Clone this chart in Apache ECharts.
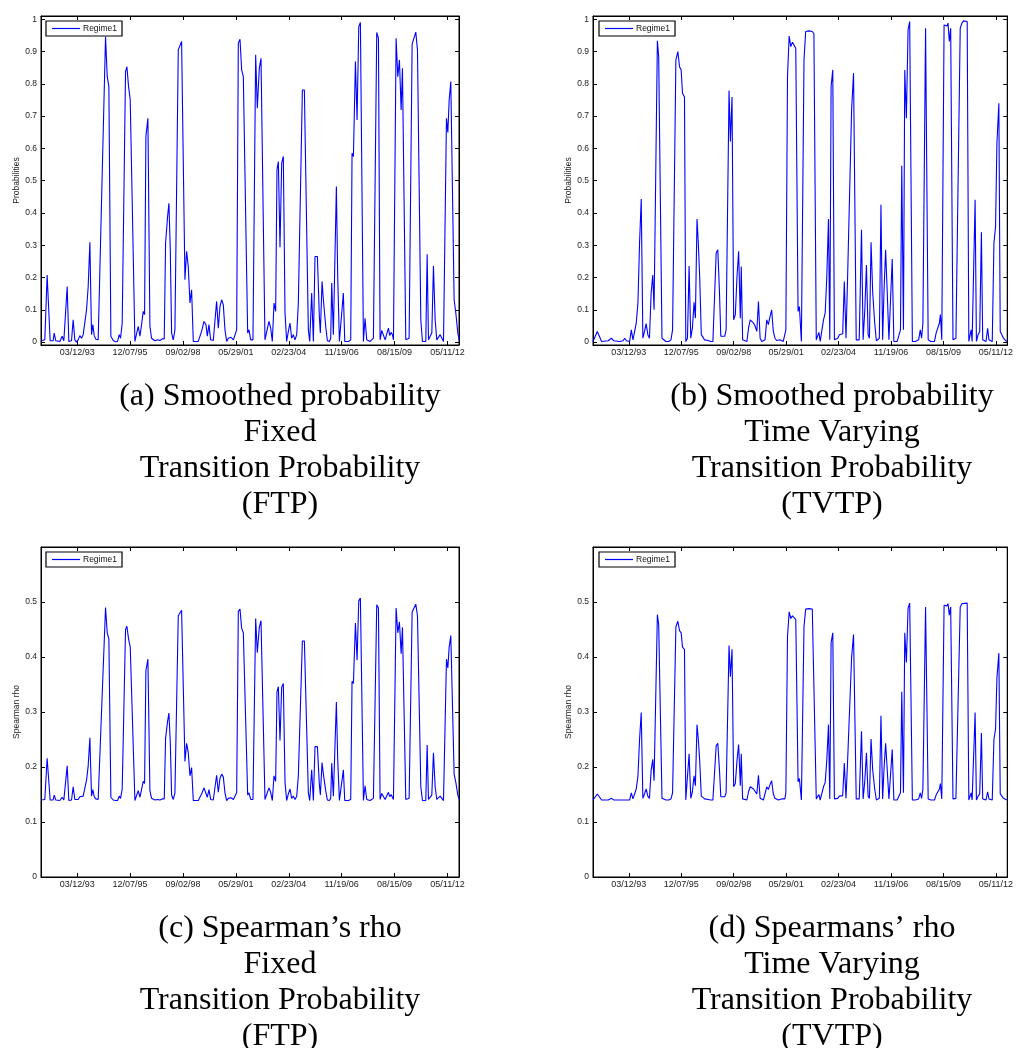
<!DOCTYPE html>
<html>
<head>
<meta charset="utf-8">
<script src="https://cdn.jsdelivr.net/npm/echarts@6/dist/echarts.min.js"></script>
<style>
html,body{margin:0;padding:0;background:#fff;}
#chart{width:1016px;height:1048px;}
</style>
</head>
<body>
<div id="chart"></div>
<script>
// x values: days since 1990-06-16 (tick 1000 = 03/12/93, every 1000 days)
const tickDays = [1000,2000,3000,4000,5000,6000,7000,8000];
const tickLabels = ['03/12/93','12/07/95','09/02/98','05/29/01','02/23/04','11/19/06','08/15/09','05/11/12'];
const probTicks = [0,0.1,0.2,0.3,0.4,0.5,0.6,0.7,0.8,0.9,1];
const rhoTicks = [0,0.1,0.2,0.3,0.4,0.5];
const seriesName = 'Regime1';

// (a)/(c) Fixed transition probability
const ftpDays = [319,388,432,464,489,546,565,596,672,716,
748,779,811,842,893,924,956,987,1019,1050,
1082,1113,1177,1208,1240,1271,1296,1322,1353,1397,
1536,1568,1599,1637,1681,1725,1763,1795,1820,1851,
1914,1940,1971,2003,2091,2123,2154,2186,2217,2249,
2274,2299,2337,2375,2406,2469,2520,2564,2608,2646,
2671,2709,2734,2760,2785,2816,2848,2911,2942,2974,
3037,3069,3100,3132,3163,3195,3289,3352,3397,3434,
3460,3491,3523,3573,3605,3636,3668,3699,3731,3762,
3794,3826,3857,3908,3952,3983,4015,4046,4078,4109,
4141,4223,4248,4280,4323,4374,4405,4443,4475,4550,
4582,4626,4658,4689,4721,4752,4777,4803,4834,4866,
4897,4929,4960,4992,5023,5055,5086,5118,5150,5181,
5257,5295,5370,5396,5433,5465,5496,5541,5578,5597,
5629,5654,5698,5730,5768,5793,5812,5843,5900,5925,
5957,5988,6032,6058,6127,6171,6196,6222,6260,6291,
6323,6354,6411,6442,6474,6537,6600,6663,6695,6726,
6758,6789,6821,6852,6884,6909,6934,6960,6979,7029,
7061,7092,7124,7149,7212,7243,7275,7332,7363,7401,
7433,7496,7527,7559,7590,7616,7641,7672,7704,7735,
7767,7798,7830,7862,7893,7925,7956,7981,8007,8032,
8063,8126,8158,8196,8221];
const ftpProb = [.004,.007,.208,.212,.004,.004,.028,.004,.002,.018,
.004,.007,.172,.002,.004,.069,.007,0,.007,.020,
.012,.023,.100,.172,.309,.023,.054,.020,.009,.007,
.946,.822,.792,.018,.005,.001,.002,.023,.012,.059,
.838,.853,.792,.750,.002,.007,.049,.018,.054,.095,
.085,.637,.693,.049,.012,.004,.007,.005,.010,.010,
.306,.389,.430,.286,.028,.007,.038,.905,.910,.931,
.193,.281,.234,.121,.162,.002,.002,.033,.064,.054,
.018,.054,.007,.005,.002,.126,.043,.110,.131,.116,
.038,.002,.012,.015,.007,.002,.038,.926,.938,.843,
.822,.028,.038,.007,.007,.890,.724,.848,.879,.007,
.002,.064,.043,.002,.121,.095,.534,.559,.294,.554,
.575,.090,.002,.033,.059,.012,.023,.007,.023,.121,
.781,.781,.038,.002,.152,.002,.265,.265,.079,.028,
.188,.131,.049,.004,.002,.012,.183,.023,.482,.203,
.002,.064,.152,.002,.002,.007,.585,.575,.869,.688,
.977,.990,.002,.074,.007,.002,.012,.959,.941,.007,
.036,.036,.007,.007,.043,.020,.030,.023,.007,.941,
.822,.874,.719,.848,.007,.007,.012,.923,.928,.960,
.905,.069,.002,.007,.002,.272,.007,.012,.028,.236,
.069,.007,.007,.023,.018,.002,.002,.693,.649,.750,
.807,.131,.090,.028,.007];
const ftpRho = [.140,.141,.216,.217,.140,.140,.149,.140,.139,.145,
.140,.141,.202,.139,.140,.164,.141,.139,.141,.146,
.143,.147,.176,.202,.253,.147,.159,.146,.142,.141,
.490,.444,.433,.145,.140,.139,.139,.147,.143,.160,
.450,.456,.433,.418,.139,.141,.157,.145,.159,.174,
.170,.375,.396,.157,.143,.140,.141,.140,.142,.142,
.252,.283,.298,.245,.149,.141,.153,.475,.477,.485,
.210,.243,.226,.184,.199,.139,.139,.151,.162,.159,
.145,.159,.141,.140,.139,.185,.154,.179,.187,.182,
.153,.139,.143,.144,.141,.139,.153,.483,.487,.452,
.444,.149,.153,.141,.141,.470,.408,.454,.466,.141,
.139,.162,.154,.139,.184,.174,.337,.346,.248,.345,
.352,.172,.139,.151,.160,.143,.147,.141,.147,.184,
.429,.429,.153,.139,.195,.139,.237,.237,.168,.149,
.208,.187,.157,.140,.139,.143,.207,.147,.318,.214,
.139,.162,.195,.139,.139,.141,.356,.352,.462,.394,
.502,.507,.139,.166,.141,.139,.143,.495,.489,.141,
.152,.152,.141,.141,.154,.146,.150,.147,.141,.489,
.444,.464,.406,.454,.141,.141,.143,.482,.484,.496,
.475,.164,.139,.141,.139,.240,.141,.143,.149,.226,
.164,.141,.141,.147,.145,.139,.139,.396,.380,.418,
.439,.187,.172,.149,.141];

// (b)/(d) Time varying transition probability
const tvtpDays = [316,354,398,435,480,606,637,669,687,713,
826,889,921,952,984,1015,1047,1078,1110,1141,
1173,1204,1236,1248,1267,1299,1330,1362,1393,1425,
1456,1481,1544,1569,1601,1632,1664,1708,1758,1803,
1834,1897,1935,1966,1998,2023,2061,2086,2118,2149,
2181,2212,2244,2269,2300,2325,2351,2382,2414,2445,
2477,2514,2559,2603,2640,2666,2697,2729,2754,2792,
2829,2855,2911,2937,2968,2999,3031,3063,3094,3126,
3144,3170,3207,3252,3283,3315,3346,3378,3409,3441,
3472,3504,3535,3567,3598,3630,3661,3693,3724,3756,
3787,3819,3850,3882,3913,3945,3976,3995,4026,4058,
4089,4121,4152,4184,4228,4253,4291,4316,4341,4373,
4404,4436,4467,4499,4530,4575,4593,4625,4650,4682,
4713,4745,4776,4808,4833,4858,4890,4921,4953,4984,
5016,5079,5110,5142,5173,5249,5286,5337,5362,5394,
5438,5469,5501,5532,5564,5589,5620,5652,5690,5721,
5753,5778,5809,5841,5866,5898,5929,5961,5992,6024,
6055,6118,6181,6206,6238,6263,6294,6326,6357,6383,
6408,6465,6528,6559,6584,6609,6660,6685,6710,6761,
6830,6861,6893,6924,6943,6969,7013,7044,7069,7088,
7113,7139,7164,7183,7208,7239,7271,7321,7353,7384,
7454,7485,7504,7529,7548,7580,7605,7630,7662,7693,
7725,7750,7813,7844,7869,7932,7964,7995,8021,8058,
8084,8115,8147,8184,8210];
const tvtpProb = [.002,.005,.033,.038,.002,.004,.007,.012,.018,.004,
.002,.004,.012,.004,0,.002,.038,.007,.012,.059,
.121,.306,.443,.443,.012,.033,.057,.023,.012,.152,
.208,.100,.933,.884,.884,.012,.007,.002,.002,.007,
.038,.874,.900,.853,.843,.771,.759,.002,.012,.236,
.012,.043,.123,.074,.381,.306,.203,.023,.020,.007,
.012,.005,.002,.002,.007,.276,.286,.152,.018,.018,
.018,.038,.779,.621,.759,.069,.085,.203,.281,.074,
.234,.007,.002,.002,.043,.069,.064,.059,.049,.033,
.126,.012,.002,.002,.007,.069,.054,.079,.100,.033,
.012,.005,.002,.007,.009,.002,.007,.038,.822,.948,
.915,.929,.926,.910,.095,.110,.002,.007,.874,.962,
.965,.964,.967,.962,.955,.007,.007,.030,.002,.007,
.069,.090,.203,.381,.007,.792,.843,.007,.002,.012,
.023,.026,.188,.012,.203,.719,.833,.007,.002,.007,
.348,.007,.100,.239,.023,.012,.309,.152,.059,.004,
.004,.012,.425,.007,.152,.286,.152,.007,.131,.257,
.002,.002,.038,.546,.038,.843,.693,.967,.993,.990,
.002,.002,.007,.038,.012,.059,.972,.977,.007,.002,
.002,.028,.033,.059,.085,.007,.982,.988,.979,.988,
.931,.972,.975,.007,.012,.012,.007,.972,.988,.995,
.993,.002,.002,.038,.002,.002,.441,.002,.023,.033,
.340,.007,.002,.043,.007,.002,.306,.358,.616,.740,
.033,.030,.012,.005,.002];
const tvtpRho = [.140,.141,.151,.153,.140,.140,.142,.143,.146,.140,
.140,.140,.143,.140,.139,.140,.153,.142,.143,.160,
.183,.250,.299,.299,.143,.151,.160,.147,.143,.194,
.214,.175,.477,.459,.459,.143,.142,.140,.140,.142,
.153,.455,.465,.448,.444,.418,.414,.140,.143,.224,
.143,.155,.184,.166,.277,.250,.212,.147,.146,.142,
.143,.141,.140,.140,.142,.239,.243,.194,.146,.146,
.146,.153,.421,.364,.414,.164,.170,.212,.241,.166,
.224,.142,.140,.140,.155,.164,.162,.160,.157,.151,
.185,.143,.140,.140,.142,.164,.159,.168,.175,.151,
.143,.141,.140,.142,.142,.140,.142,.153,.437,.482,
.470,.475,.474,.468,.173,.179,.140,.142,.455,.487,
.488,.488,.489,.487,.485,.142,.142,.150,.140,.142,
.164,.172,.212,.277,.142,.426,.444,.142,.140,.143,
.147,.148,.207,.143,.212,.399,.441,.142,.140,.142,
.265,.142,.175,.226,.147,.143,.251,.194,.160,.140,
.140,.143,.293,.142,.194,.243,.194,.142,.186,.232,
.140,.140,.153,.337,.153,.444,.390,.489,.498,.497,
.140,.140,.142,.153,.143,.160,.491,.493,.142,.140,
.140,.149,.151,.160,.170,.142,.494,.497,.493,.497,
.476,.491,.492,.142,.143,.143,.142,.491,.497,.499,
.498,.140,.140,.153,.140,.140,.299,.140,.147,.151,
.262,.142,.140,.155,.142,.140,.250,.269,.362,.407,
.151,.150,.143,.141,.140];

const captions = [
  '(a) Smoothed probability\nFixed\nTransition Probability\n(FTP)',
  '(b) Smoothed probability\nTime Varying\nTransition Probability\n(TVTP)',
  '(c) Spearman\u2019s rho\nFixed\nTransition Probability\n(FTP)',
  '(d) Spearmans\u2019 rho\nTime Varying\nTransition Probability\n(TVTP)'
];
const yNames = ['Probabilities','Probabilities','Spearman rho','Spearman rho'];

const panels = [
  {days: ftpDays, vals: ftpProb, ticks: probTicks, ymin: -0.009, ymax: 1.01, grid:{left:41, top:16, width:418, height:329}, legend:{left:46, top:21}, cap:{x:280, y:379}},
  {days: tvtpDays, vals: tvtpProb, ticks: probTicks, ymin: -0.009, ymax: 1.01, grid:{left:593, top:16, width:417, height:329}, legend:{left:599, top:21}, cap:{x:832, y:379}},
  {days: ftpDays, vals: ftpRho, ticks: rhoTicks, ymin: 0, ymax: 0.6, grid:{left:41, top:547, width:418, height:330}, legend:{left:46, top:552}, cap:{x:280, y:911}},
  {days: tvtpDays, vals: tvtpRho, ticks: rhoTicks, ymin: 0, ymax: 0.6, grid:{left:593, top:547, width:417, height:330}, legend:{left:599, top:552}, cap:{x:832, y:911}}
];

const XMIN = 316, XMAX = 8218;
const sansFont = 'Liberation Sans, Arial, Helvetica, sans-serif';
const axisCol = '#000';
const labelCol = '#222';

const grid = [], xAxis = [], yAxis = [], series = [], legend = [], graphic = [];
panels.forEach((p, i) => {
  grid.push(Object.assign({containLabel:false, show:true, borderColor:axisCol, borderWidth:1, backgroundColor:'#fff'}, p.grid));
  const xBase = {type:'value', gridIndex:i, min:XMIN, max:XMAX, splitLine:{show:false},
    axisLine:{show:true, onZero:false, lineStyle:{color:axisCol, width:1}},
    axisTick:{show:true, inside:true, length:4, customValues: tickDays, lineStyle:{color:axisCol, width:1}}};
  xAxis.push(Object.assign({}, xBase, {position:'bottom',
    axisLabel:{show:true, customValues: tickDays, margin:3, fontSize:9, fontFamily:sansFont, color:labelCol,
      formatter: v => { const k = tickDays.indexOf(Math.round(v)); return k >= 0 ? tickLabels[k] : ''; }}}));
  xAxis.push(Object.assign({}, xBase, {position:'top', axisLabel:{show:false}}));
  const yBase = {type:'value', gridIndex:i, min:p.ymin, max:p.ymax, splitLine:{show:false},
    axisLine:{show:true, onZero:false, lineStyle:{color:axisCol, width:1}},
    axisTick:{show:true, inside:true, length:4, customValues: p.ticks, lineStyle:{color:axisCol, width:1}}};
  yAxis.push(Object.assign({}, yBase, {position:'left',
    name: yNames[i], nameLocation:'middle', nameGap:20,
    nameTextStyle:{fontSize:8.5, fontFamily:sansFont, color:labelCol},
    axisLabel:{show:true, customValues: p.ticks, margin:4, fontSize:8.5, fontFamily:sansFont, color:labelCol,
      formatter: v => String(parseFloat(Number(v).toFixed(1)))}}));
  yAxis.push(Object.assign({}, yBase, {position:'right', axisLabel:{show:false}}));
  series.push({
    name: seriesName, type:'line', xAxisIndex: 2*i, yAxisIndex: 2*i,
    data: p.days.map((d, k) => [d, p.vals[k]]),
    symbol:'none', showSymbol:false, silent:true, animation:false,
    lineStyle:{color:'#0000ff', width:1.1}, itemStyle:{color:'#0000ff'}
  });
  legend.push({
    left: p.legend.left, top: p.legend.top, data:[seriesName], selectedMode:false,
    orient:'horizontal', icon:'rect', itemWidth:28, itemHeight:1.2, itemGap:0,
    itemStyle:{color:'#0000ff', borderWidth:0},
    padding:[2,5,2,6], borderColor:'#000', borderWidth:1.2, backgroundColor:'#fff',
    textStyle:{fontSize:8.5, lineHeight:11, fontFamily:sansFont, color:'#111', padding:[0,0,0,-2]}
  });
  graphic.push({
    type:'text', x: p.cap.x, y: p.cap.y, silent:true,
    style:{text: captions[i], fill:'#000', font:'32px "Liberation Serif", "DejaVu Serif", serif',
      textAlign:'center', align:'center', textVerticalAlign:'top', verticalAlign:'top', lineHeight:36}
  });
});

const chart = echarts.init(document.getElementById('chart'), null, {renderer:'canvas'});
chart.setOption({
  backgroundColor:'#fff',
  animation:false,
  grid, xAxis, yAxis, series, legend, graphic
});
</script>
</body>
</html>
